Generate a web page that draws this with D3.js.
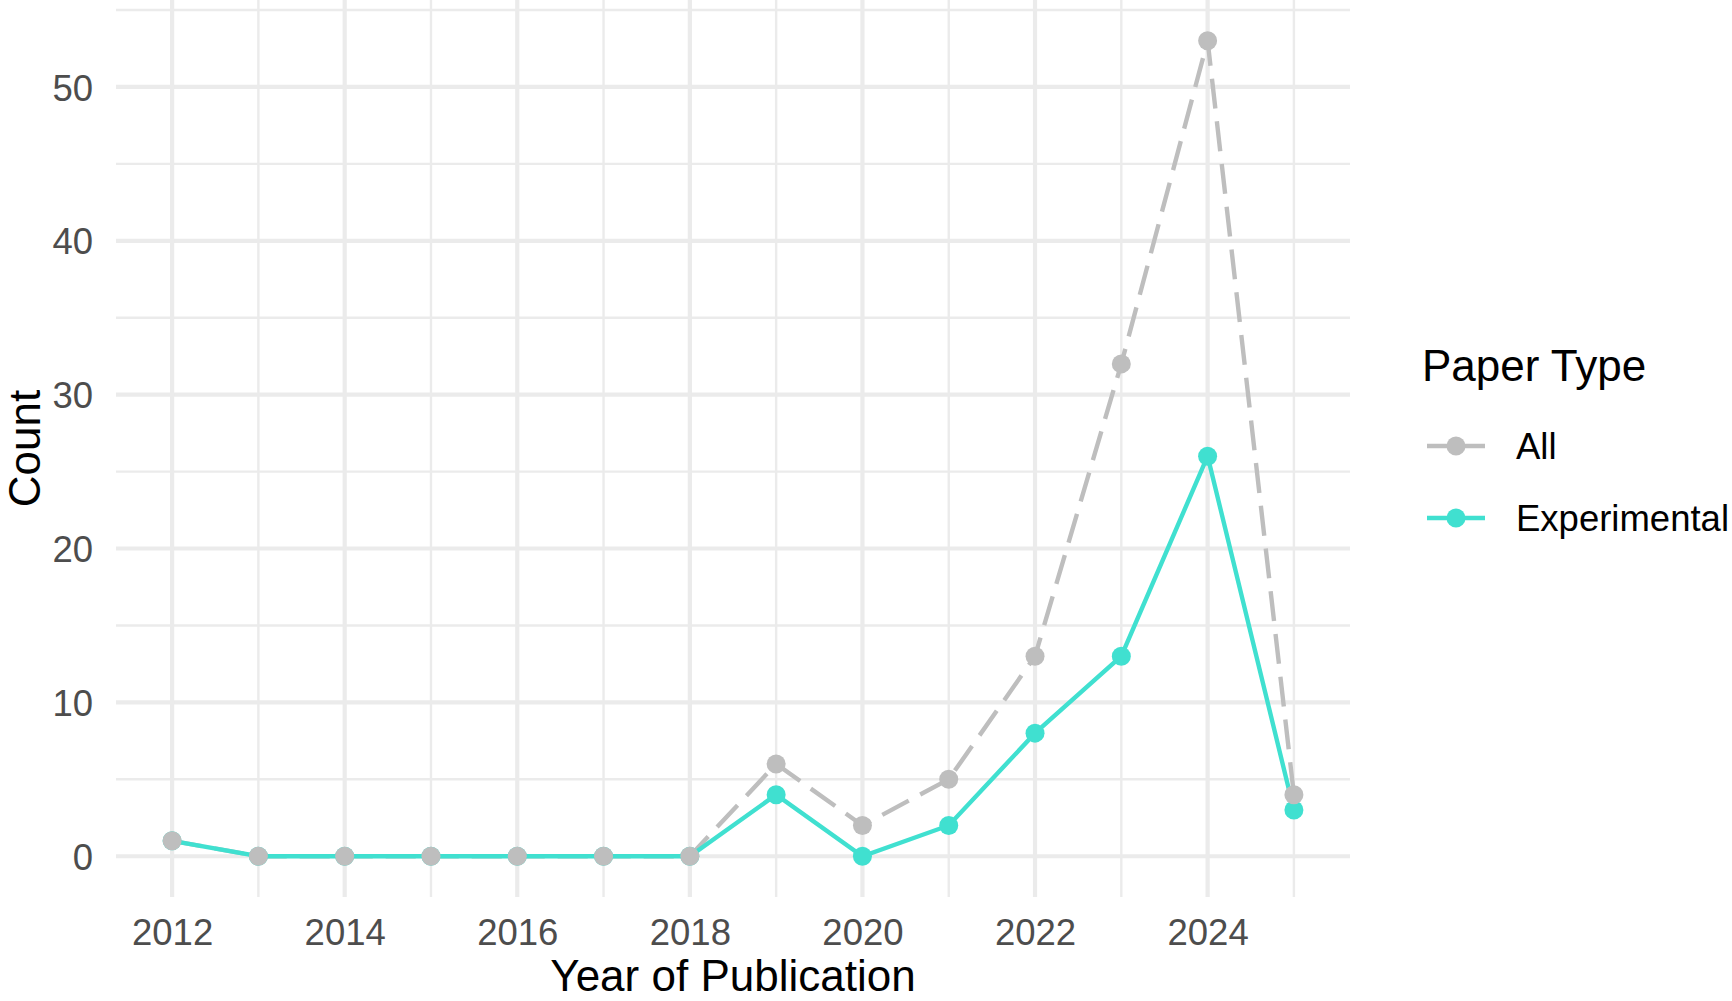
<!DOCTYPE html>
<html>
<head>
<meta charset="utf-8">
<script src="https://cdn.jsdelivr.net/npm/d3@7"></script>
<style>
  body { margin: 0; background: #fff; }
  text { font-family: "Liberation Sans", Arial, Helvetica, sans-serif; }
</style>
</head>
<body>
<div id="chart"></div>
<script>
// data
var years = [2012, 2013, 2014, 2015, 2016, 2017, 2018, 2019, 2020, 2021, 2022, 2023, 2024, 2025];
var allCounts = [1, 0, 0, 0, 0, 0, 0, 6, 2, 5, 13, 32, 53, 4];
var expCounts = [1, 0, 0, 0, 0, 0, 0, 4, 0, 2, 8, 13, 26, 3];
var xMajor = [2012, 2014, 2016, 2018, 2020, 2022, 2024];
var xMinor = [2013, 2015, 2017, 2019, 2021, 2023, 2025];
var yMajor = [0, 10, 20, 30, 40, 50];
var yMinor = [5, 15, 25, 35, 45, 55];
var seriesNames = ["All", "Experimental"];
var seriesColors = ["#BEBEBE", "#40E0D0"];

var W = 1732, H = 1001;
var panel = {left: 116, right: 1350, top: 0, bottom: 897};

var svg = d3.select("#chart")
  .append("svg")
    .attr("width", W)
    .attr("height", H);

// ggplot style 5% expansion
var x = d3.scaleLinear()
  .domain([2012 - 0.05 * 13, 2025 + 0.05 * 13])
  .range([panel.left, panel.right]);
var y = d3.scaleLinear()
  .domain([0 - 0.05 * 53, 53 + 0.05 * 53])
  .range([panel.bottom, panel.top]);

var grid = svg.append("g").attr("stroke", "#EBEBEB");

// minor grid
grid.selectAll(".ymin").data(yMinor).enter().append("line")
  .attr("x1", panel.left).attr("x2", panel.right)
  .attr("y1", function (d) { return y(d); })
  .attr("y2", function (d) { return y(d); })
  .attr("stroke-width", 2.4);
grid.selectAll(".xmin").data(xMinor).enter().append("line")
  .attr("y1", panel.top).attr("y2", panel.bottom)
  .attr("x1", function (d) { return x(d); })
  .attr("x2", function (d) { return x(d); })
  .attr("stroke-width", 2.4);

// major grid
grid.selectAll(".ymaj").data(yMajor).enter().append("line")
  .attr("x1", panel.left).attr("x2", panel.right)
  .attr("y1", function (d) { return y(d); })
  .attr("y2", function (d) { return y(d); })
  .attr("stroke-width", 4.2);
grid.selectAll(".xmaj").data(xMajor).enter().append("line")
  .attr("y1", panel.top).attr("y2", panel.bottom)
  .attr("x1", function (d) { return x(d); })
  .attr("x2", function (d) { return x(d); })
  .attr("stroke-width", 4.2);

// axes (labels only)
var xAxis = svg.append("g")
  .attr("transform", "translate(0," + panel.bottom + ")")
  .call(d3.axisBottom(x).tickValues(xMajor).tickFormat(d3.format("d")).tickSize(0));
xAxis.select(".domain").remove();
xAxis.selectAll("text")
  .attr("y", 48).attr("dy", null)
  .attr("font-size", 36.5)
  .attr("fill", "#4D4D4D")
  .attr("font-family", "Liberation Sans, Arial, sans-serif");

var yAxis = svg.append("g")
  .attr("transform", "translate(" + panel.left + ",0)")
  .call(d3.axisLeft(y).tickValues(yMajor).tickSize(0));
yAxis.select(".domain").remove();
yAxis.selectAll("text")
  .attr("x", -23).attr("dy", "0.36em")
  .attr("font-size", 36.5)
  .attr("fill", "#4D4D4D")
  .attr("font-family", "Liberation Sans, Arial, sans-serif");

// axis titles
svg.append("text")
  .attr("x", (panel.left + panel.right) / 2)
  .attr("y", 991)
  .attr("text-anchor", "middle")
  .attr("font-size", 44)
  .attr("fill", "#000")
  .text("Year of Publication");

svg.append("text")
  .attr("transform", "translate(40," + (panel.bottom / 2) + ") rotate(-90)")
  .attr("text-anchor", "middle")
  .attr("font-size", 44)
  .attr("fill", "#000")
  .text("Count");

// lines
var line = d3.line()
  .x(function (d, i) { return x(years[i]); })
  .y(function (d) { return y(d); });

svg.append("path")
  .datum(allCounts)
  .attr("d", line)
  .attr("fill", "none")
  .attr("stroke", seriesColors[0])
  .attr("stroke-width", 4.4)
  .attr("stroke-dasharray", "30 13");

svg.append("path")
  .datum(expCounts)
  .attr("d", line)
  .attr("fill", "none")
  .attr("stroke", seriesColors[1])
  .attr("stroke-width", 4.4);

// points (Experimental first, All on top)
svg.append("g")
  .selectAll("circle")
  .data(expCounts)
  .enter()
  .append("circle")
    .attr("cx", function (d, i) { return x(years[i]); })
    .attr("cy", function (d) { return y(d); })
    .attr("r", 9.5)
    .style("fill", seriesColors[1]);

svg.append("g")
  .selectAll("circle")
  .data(allCounts)
  .enter()
  .append("circle")
    .attr("cx", function (d, i) { return x(years[i]); })
    .attr("cy", function (d) { return y(d); })
    .attr("r", 9.5)
    .style("fill", seriesColors[0]);

// legend
var legend = svg.append("g");
legend.append("text")
  .attr("x", 1422)
  .attr("y", 381)
  .attr("font-size", 44)
  .attr("fill", "#000")
  .text("Paper Type");

var keys = legend.selectAll(".key")
  .data(seriesNames)
  .enter()
  .append("g")
    .attr("transform", function (d, i) { return "translate(0," + (446 + i * 72) + ")"; });

keys.append("line")
  .attr("x1", 1427).attr("x2", 1485)
  .attr("y1", 0).attr("y2", 0)
  .attr("stroke", function (d, i) { return seriesColors[i]; })
  .attr("stroke-width", 4.4);
keys.append("circle")
  .attr("cx", 1456).attr("cy", 0)
  .attr("r", 9.5)
  .style("fill", function (d, i) { return seriesColors[i]; });
keys.append("text")
  .attr("x", 1516)
  .attr("y", 0)
  .attr("dy", "0.36em")
  .attr("font-size", 36.5)
  .attr("fill", "#000")
  .text(function (d) { return d; });
</script>
</body>
</html>
